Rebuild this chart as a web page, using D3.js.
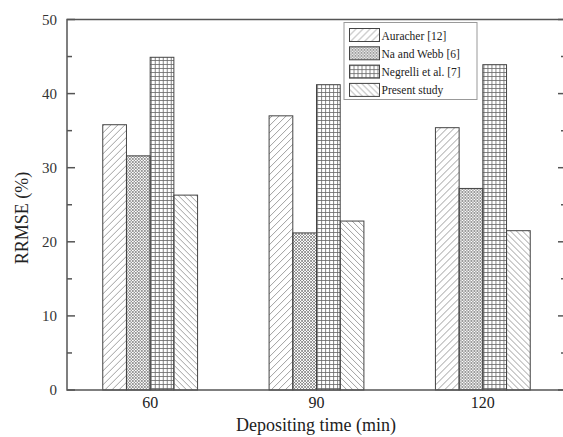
<!DOCTYPE html>
<html>

<head>
  <title>RRMSE bar chart</title>
  <script src="https://cdn.jsdelivr.net/npm/d3@7"></script>
  <style>
    body {
      margin: 0;
      background-color: #fff;
    }

    text {
      font-family: "Liberation Serif", "Times New Roman", serif;
    }
  </style>
</head>

<body>
  <div id="chart"></div>
  <script>
    // data
    const times = ["60", "90", "120"];
    const series = ["Auracher [12]", "Na and Webb [6]", "Negrelli et al. [7]", "Present study"];
    const auracher = [35.8, 37.0, 35.4];
    const naWebb = [31.6, 21.2, 27.2];
    const negrelli = [44.9, 41.2, 43.9];
    const present = [26.3, 22.8, 21.5];
    const yTicks = [0, 10, 20, 30, 40, 50];
    const yMinor = [5, 15, 25, 35, 45];

    const values = [auracher, naWebb, negrelli, present];
    const patternIds = ["fwd", "cross", "grid", "back"];

    const width = 563;
    const height = 437;
    const margin = { top: 19.5, right: -3, bottom: 47, left: 67 };

    const svg = d3.select("#chart").append("svg")
      .attr("width", width)
      .attr("height", height);

    // hatch patterns
    const defs = svg.append("defs");
    const fwd = defs.append("pattern").attr("id", "fwd")
      .attr("patternUnits", "userSpaceOnUse").attr("width", 7).attr("height", 7);
    fwd.append("path").attr("d", "M-1,8 L8,-1 M-2,2 L2,-2 M5,9 L9,5")
      .attr("stroke", "#888").attr("stroke-width", 0.8);

    const back = defs.append("pattern").attr("id", "back")
      .attr("patternUnits", "userSpaceOnUse").attr("width", 6).attr("height", 6);
    back.append("path").attr("d", "M-1,-1 L7,7 M-2,4 L2,8 M4,-2 L8,2")
      .attr("stroke", "#888").attr("stroke-width", 0.8);

    const cross = defs.append("pattern").attr("id", "cross")
      .attr("patternUnits", "userSpaceOnUse").attr("width", 3).attr("height", 3);
    cross.append("path").attr("d", "M-1,4 L4,-1 M-1,-1 L4,4")
      .attr("stroke", "#555").attr("stroke-width", 0.6);

    const grid = defs.append("pattern").attr("id", "grid")
      .attr("patternUnits", "userSpaceOnUse").attr("width", 4).attr("height", 4);
    grid.append("path").attr("d", "M0,0.5 H4 M0.5,0 V4")
      .attr("stroke", "#666").attr("stroke-width", 0.8);

    const x = d3.scaleBand()
      .domain(times)
      .range([margin.left, width - margin.right])
      .paddingInner(0.43)
      .paddingOuter(0.215);

    const xs = d3.scaleBand()
      .domain(d3.range(series.length))
      .range([0, x.bandwidth()]);

    const y = d3.scaleLinear()
      .domain([0, 50])
      .range([height - margin.bottom, margin.top]);

    // bars
    svg.append("g")
      .selectAll("g")
      .data(times)
      .join("g")
      .attr("transform", d => `translate(${x(d)},0)`)
      .selectAll("rect")
      .data((d, i) => values.map((v, s) => ({ s, v: v[i] })))
      .join("rect")
      .attr("x", d => xs(d.s))
      .attr("y", d => y(d.v))
      .attr("width", xs.bandwidth())
      .attr("height", d => y(0) - y(d.v))
      .attr("fill", d => `url(#${patternIds[d.s]})`)
      .attr("stroke", "#444")
      .attr("stroke-width", 1);

    // axes frame
    const x0 = margin.left, x1 = width - margin.right;
    const y0 = y(0), y1 = y(50);
    svg.append("rect")
      .attr("x", x0).attr("y", y1)
      .attr("width", x1 - x0).attr("height", y0 - y1)
      .attr("fill", "none").attr("stroke", "#555").attr("stroke-width", 1.5);

    const tickG = svg.append("g").attr("stroke", "#555").attr("stroke-width", 1.5);
    tickG.selectAll(".maj").data(yTicks).join("line").attr("class", "maj")
      .attr("x1", x0).attr("x2", x0 + 8).attr("y1", d => y(d)).attr("y2", d => y(d));
    tickG.selectAll(".min").data(yMinor).join("line").attr("class", "min")
      .attr("x1", x0).attr("x2", x0 + 5).attr("y1", d => y(d)).attr("y2", d => y(d));
    tickG.selectAll(".majr").data(yTicks).join("line").attr("class", "majr")
      .attr("x1", x1).attr("x2", x1 - 8).attr("y1", d => y(d)).attr("y2", d => y(d));
    tickG.selectAll(".minr").data(yMinor).join("line").attr("class", "minr")
      .attr("x1", x1).attr("x2", x1 - 5).attr("y1", d => y(d)).attr("y2", d => y(d));

    // tick labels
    svg.append("g")
      .attr("font-size", 15)
      .attr("fill", "#333")
      .selectAll("text")
      .data(yTicks)
      .join("text")
      .attr("x", x0 - 10)
      .attr("y", d => y(d))
      .attr("dy", "0.35em")
      .attr("text-anchor", "end")
      .text(d => d);

    svg.append("g")
      .attr("font-size", 16)
      .attr("fill", "#222")
      .selectAll("text")
      .data(times)
      .join("text")
      .attr("x", d => x(d) + x.bandwidth() / 2)
      .attr("y", 408)
      .attr("text-anchor", "middle")
      .text(d => d);

    svg.append("text")
      .attr("x", 316)
      .attr("y", 431)
      .attr("text-anchor", "middle")
      .attr("font-size", 18)
      .attr("fill", "#222")
      .text("Depositing time (min)");

    svg.append("text")
      .attr("transform", "translate(28,218) rotate(-90)")
      .attr("text-anchor", "middle")
      .attr("font-size", 18)
      .attr("fill", "#222")
      .text("RRMSE (%)");

    // legend
    const legend = svg.append("g").attr("transform", "translate(344,22.5)");
    legend.append("rect")
      .attr("width", 133).attr("height", 77)
      .attr("fill", "#fff").attr("stroke", "#999").attr("stroke-width", 1);
    const item = legend.selectAll("g")
      .data(series)
      .join("g")
      .attr("transform", (d, i) => `translate(5.5,${6 + i * 18.3})`);
    item.append("rect")
      .attr("width", 30).attr("height", 13)
      .attr("fill", (d, i) => `url(#${patternIds[i]})`)
      .attr("stroke", "#444").attr("stroke-width", 1);
    item.append("text")
      .attr("x", 32)
      .attr("y", 7)
      .attr("dy", "0.35em")
      .attr("font-size", 11.5)
      .attr("fill", "#222")
      .text(d => d);
  </script>
</body>

</html>
